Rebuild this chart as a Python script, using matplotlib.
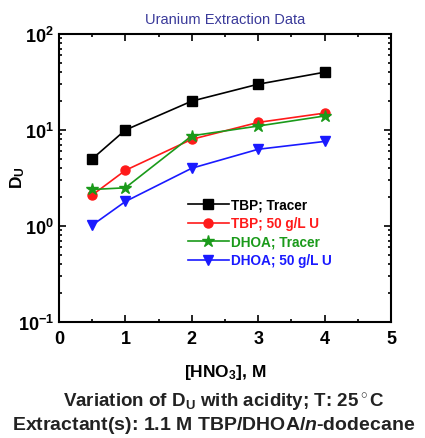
import matplotlib
matplotlib.use('Agg')
import matplotlib.pyplot as plt
from matplotlib.ticker import LogLocator, MultipleLocator, NullFormatter

plt.rcParams['font.family'] = ['Liberation Sans', 'DejaVu Sans']
plt.rcParams['mathtext.fontset'] = 'custom'
plt.rcParams['mathtext.rm'] = 'Liberation Sans:bold'
plt.rcParams['mathtext.it'] = 'Liberation Sans:italic:bold'
plt.rcParams['mathtext.bf'] = 'Liberation Sans:bold'

# acid concentration, M
hno3 = [0.5, 1, 2, 3, 4]

# distribution ratios of uranium
d_tbp_tracer = [5.0, 10.0, 20.0, 30.0, 40.0]
d_tbp_50 = [2.1, 3.8, 8.0, 12.0, 15.0]
d_dhoa_tracer = [2.4, 2.5, 8.7, 11.0, 14.0]
d_dhoa_50 = [1.02, 1.8, 4.0, 6.3, 7.6]

series_labels = ['TBP; Tracer', 'TBP; 50 g/L U', 'DHOA; Tracer', 'DHOA; 50 g/L U']
series_colors = ['black', '#ff1a1a', '#1a9a1a', '#1a1aff']
series_markers = ['s', 'o', '*', 'v']


def main():
	fig = plt.figure(figsize=(4.25, 4.39), dpi=100)
	ax = fig.add_axes([59 / 425, 1 - 323 / 439, 332 / 425, 288 / 439])

	all_series = [d_tbp_tracer, d_tbp_50, d_dhoa_tracer, d_dhoa_50]
	for values, label, color, marker in zip(all_series, series_labels, series_colors, series_markers):
		size = 9 if marker == '*' else 6.5
		ax.plot(hno3, values, color=color, marker=marker, markersize=size, linewidth=1.2, label=label)

	ax.set_yscale('log')
	ax.set_xlim(0, 5)
	ax.set_ylim(0.1, 100)
	ax.xaxis.set_major_locator(MultipleLocator(1))
	ax.xaxis.set_minor_locator(MultipleLocator(0.5))
	ax.yaxis.set_major_locator(LogLocator(base=10))
	ax.yaxis.set_minor_locator(LogLocator(base=10, subs=range(2, 10)))
	ax.yaxis.set_minor_formatter(NullFormatter())
	ax.tick_params(which='both', direction='in', top=True, right=True, width=1.2)
	ax.tick_params(which='major', length=5, labelsize=13)
	ax.tick_params(axis='x', which='major', pad=6)
	ax.tick_params(which='minor', length=2.5)
	for label in ax.get_xticklabels() + ax.get_yticklabels():
		label.set_fontweight('bold')
	for spine in ax.spines.values():
		spine.set_linewidth(1.5)

	ax.set_xlabel('[HNO$_3$], M', fontsize=12.5, fontweight='bold')
	ax.xaxis.set_label_coords(0.5, -(363 - 323) / 288)
	ax.set_ylabel('D$_\\mathregular{U}$', fontsize=12.5, fontweight='bold')
	ax.yaxis.set_label_coords(-(59 - 27) / 332, (323 - 178) / 288)
	ax.set_title('Uranium Extraction Data', fontsize=10.5, color='#3a3a9a', pad=8)

	legend = ax.legend(loc='upper left', bbox_to_anchor=((188 - 59) / 332, (323 - 199) / 288),
		frameon=False, handlelength=3.0, handletextpad=0.15, labelspacing=0.33, borderaxespad=0,
		borderpad=0, prop={'weight': 'bold', 'size': 9.8})
	for text, color in zip(legend.get_texts(), series_colors):
		text.set_color(color)

	fig.text(0.527, 1 - 403 / 439, 'Variation of D$_\\mathregular{U}$ with acidity; T: 25$^\\circ$C',
		ha='center', va='center', fontsize=13.5, fontweight='bold', color='#222222')
	fig.text(0.503, 1 - 426 / 439, 'Extractant(s): 1.1 M TBP/DHOA/$n$-dodecane',
		ha='center', va='center', fontsize=14, fontweight='bold', color='#222222')

	fig.savefig('out.png', dpi=100)


if __name__ == '__main__':
	main()
